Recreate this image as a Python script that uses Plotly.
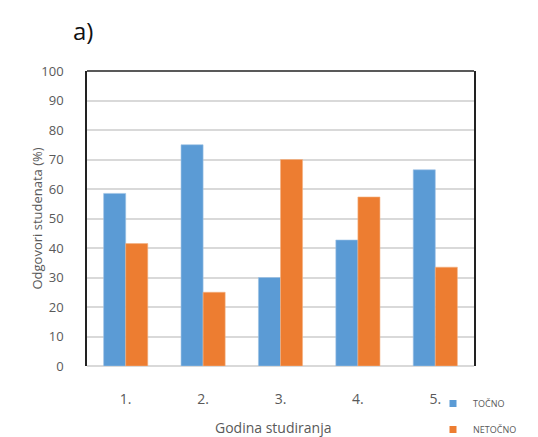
import plotly.graph_objects as go

categories = ["1.", "2.", "3.", "4.", "5."]
tocno = [58.5, 75.0, 30.0, 42.7, 66.5]
netocno = [41.5, 25.0, 70.0, 57.3, 33.5]
y_ticks = [0, 10, 20, 30, 40, 50, 60, 70, 80, 90, 100]
series_names = ["TOČNO", "NETOČNO"]
series_colors = ["#5B9BD5", "#ED7D31"]

W, H = 538, 437
L, R, T, B = 87, 474, 71, 366

fig = go.Figure()
fig.add_trace(go.Bar(x=categories, y=tocno, name=series_names[0], marker_color=series_colors[0],
                     marker_line=dict(color="#9DC3E6", width=0.6), showlegend=False))
fig.add_trace(go.Bar(x=categories, y=netocno, name=series_names[1], marker_color=series_colors[1],
                     marker_line=dict(color="#F4B183", width=0.6), showlegend=False))
# small square legend keys like the original
for i, (nm, col) in enumerate(zip(series_names, series_colors)):
    fig.add_trace(go.Scatter(x=[None], y=[None], mode="markers", name=nm,
                             marker=dict(symbol="square", size=7, color=col),
                             legendgroup=f"g{i}", showlegend=True))

font = "Open Sans, Liberation Sans, sans-serif"
fig.update_layout(
    width=W, height=H,
    margin=dict(l=L, r=W - R, t=T, b=H - B, pad=0, autoexpand=False),
    paper_bgcolor="white", plot_bgcolor="white",
    barmode="group", bargap=0.43, bargroupgap=0,
    font=dict(family=font, color="#595959", size=13),
    showlegend=True,
    legend=dict(x=(433 - L) / (R - L), y=(B - 389) / (B - T), xanchor="left", yanchor="top",
                font=dict(size=9, color="#595959"), itemwidth=30, tracegroupgap=7,
                borderwidth=0, bgcolor="rgba(0,0,0,0)"),
    xaxis=dict(showgrid=False, showline=False, ticks="outside", ticklen=20,
               tickcolor="rgba(0,0,0,0)", tickfont=dict(size=14, color="#595959"),
               range=[-0.5, 4.5], automargin=False),
    yaxis=dict(range=[0, 100], tickvals=y_ticks, showgrid=True, gridcolor="#D9D9D9",
               gridwidth=1.5, zeroline=True, zerolinecolor="#D9D9D9", zerolinewidth=1.5,
               showline=True, linecolor="#222222", linewidth=1.5, mirror=True,
               ticks="outside", ticklen=19, tickcolor="rgba(0,0,0,0)",
               tickfont=dict(size=13, color="#595959"), automargin=False),
    shapes=[dict(type="line", xref="paper", yref="paper", x0=0, x1=1, y0=1, y1=1,
                 line=dict(color="#222222", width=1.5))],
    annotations=[
        dict(text="a)", xref="paper", yref="paper", x=(71 - L) / (R - L), y=(B - 31) / (B - T),
             xanchor="left", yanchor="middle", showarrow=False,
             font=dict(size=24, color="#111111", family=font)),
        dict(text="Odgovori studenata (%)", xref="paper", yref="paper",
             x=(36 - L) / (R - L), y=0.5, xanchor="center", yanchor="middle",
             textangle=-90, showarrow=False, font=dict(size=13, color="#595959")),
        dict(text="Godina studiranja", xref="paper", yref="paper",
             x=(273 - L) / (R - L), y=(B - 427) / (B - T), xanchor="center", yanchor="middle",
             showarrow=False, font=dict(size=14, color="#595959")),
    ],
)

fig.write_html("out.html", config={"displayModeBar": False})
with open("out.html", encoding="utf-8") as f:
    html = f.read()
html = html.replace("<head>", "<head><style>html,body{margin:0;padding:0;overflow:hidden;}</style>", 1)
with open("out.html", "w", encoding="utf-8") as f:
    f.write(html)
